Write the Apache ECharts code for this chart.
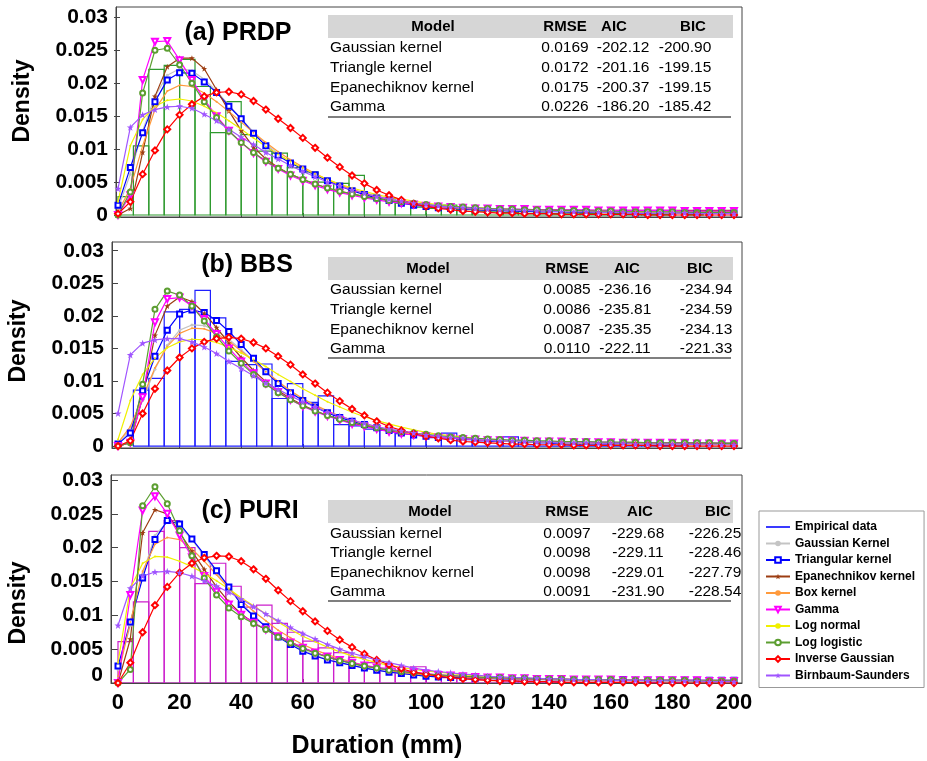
<!DOCTYPE html>
<html>
<head>
<meta charset="utf-8">
<script src="https://cdn.jsdelivr.net/npm/echarts@6/dist/echarts.min.js"></script>
<style>
html,body{margin:0;padding:0;background:#fff}
#chart{width:927px;height:761px}
</style>
</head>
<body>
<div id="chart"></div>
<script>
// ---------- data ----------
const xGrid = [0,4,8,12,16,20,24,28,32,36,40,44,48,52,56,60,64,68,72,76,80,84,88,92,96,
  100,104,108,112,116,120,124,128,132,136,140,144,148,152,156,160,164,168,172,176,180,184,188,192,196,200];
const binStarts = [0,5,10,15,20,25,30,35,40,45,50,55,60,65,70,75,80,85,90,95,
  100,105,110,115,120,125,130,135,140,145,150,155,160,165,170,175,180,185,190,195];
const binWidth = 5;
const xTicks = [0,20,40,60,80,100,120,140,160,180,200];
const yTicks = [0,0.005,0.01,0.015,0.02,0.025,0.03];

// empirical densities (PRDP, BBS, PURI)
const aHist = [0.0028,0.0105,0.0221,0.0227,0.0236,0.0195,0.0125,0.0172,0.0122,0.0097,0.0094,0.0072,0.0065,0.0050,0.0048,0.0060,0.0030,0.0025,0.0018,0.0012,0.0010,0.0015,0.0008,0.0006,0.0005,0.0004,0.0005,0.0003,0.0002,0.0003,0.0002,0.0001,0.0002,0.0001,0.0001,0.0001,0,0.0001,0,0];
const bHist = [0,0.0086,0.0104,0.0206,0.0210,0.0239,0.0197,0.0130,0.0125,0.0126,0.0073,0.0096,0.0067,0.0077,0.0033,0.0031,0.0026,0.0024,0.0019,0.0017,0.0013,0.0020,0.0010,0.0008,0.0007,0.0014,0.0006,0.0005,0.0004,0.0003,0.0003,0.0002,0.0002,0.0001,0.0001,0.0001,0.0001,0,0,0];
const cHist = [0.0061,0.0120,0.0224,0.0240,0.0200,0.0147,0.0177,0.0143,0.0112,0.0115,0.0088,0.0075,0.0062,0.0052,0.0045,0.0038,0.0030,0.0022,0.0016,0.0024,0.0010,0.0008,0.0007,0.0005,0.0004,0.0003,0.0003,0.0002,0.0002,0.0001,0.0001,0.0003,0.0001,0.0001,0.0001,0,0.0001,0,0,0];

// fitted densities, PRDP
const aGauss = [0.0010,0.0062,0.0128,0.0180,0.0212,0.0222,0.0219,0.0206,0.0188,0.0167,0.0146,0.0126,0.0108,0.0093,0.0080,0.0069,0.0060,0.0052,0.0045,0.0039,0.0034,0.0029,0.0025,0.0021,0.0018,
  0.0016,0.0014,0.0012,0.0011,0.0010,0.0009,0.0008,0.0008,0.0007,0.0007,0.0006,0.0006,0.0006,0.0005,0.0005,0.0005,0.0005,0.0005,0.0004,0.0004,0.0004,0.0004,0.0004,0.0004,0.0004,0.0004];
const aTri = [0.0015,0.0072,0.0125,0.0172,0.0205,0.0216,0.0215,0.0202,0.0186,0.0165,0.0146,0.0124,0.0105,0.0090,0.0079,0.0070,0.0061,0.0052,0.0044,0.0037,0.0031,0.0026,0.0022,0.0018,0.0015,
  0.0013,0.0011,0.0010,0.0009,0.0008,0.0007,0.0007,0.0006,0.0006,0.0005,0.0005,0.0005,0.0004,0.0004,0.0004,0.0004,0.0004,0.0003,0.0003,0.0003,0.0003,0.0003,0.0003,0.0003,0.0003,0.0003];
const aEpa = [0,0.0010,0.0095,0.0180,0.0225,0.0238,0.0238,0.0222,0.0190,0.0158,0.0128,0.0103,0.0085,0.0072,0.0062,0.0054,0.0047,0.0041,0.0036,0.0032,0.0028,0.0025,0.0022,0.0019,0.0017,
  0.0015,0.0013,0.0012,0.0011,0.0010,0.0009,0.0009,0.0008,0.0008,0.0008,0.0008,0.0008,0.0007,0.0007,0.0007,0.0007,0.0007,0.0007,0.0007,0.0007,0.0007,0.0007,0.0007,0.0007,0.0007,0.0007];
const aBox = [0.0005,0.0040,0.0105,0.0160,0.0188,0.0197,0.0195,0.0185,0.0172,0.0157,0.0141,0.0125,0.0110,0.0096,0.0084,0.0073,0.0063,0.0054,0.0046,0.0039,0.0033,0.0028,0.0024,0.0020,0.0017,
  0.0015,0.0013,0.0011,0.0010,0.0009,0.0008,0.0008,0.0007,0.0007,0.0007,0.0006,0.0006,0.0006,0.0006,0.0006,0.0005,0.0005,0.0005,0.0005,0.0005,0.0005,0.0005,0.0005,0.0005,0.0005,0.0005];
const aGam = [0,0.0030,0.0205,0.0263,0.0264,0.0235,0.0205,0.0175,0.0150,0.0128,0.0110,0.0094,0.0081,0.0070,0.0060,0.0052,0.0045,0.0039,0.0034,0.0030,0.0026,0.0023,0.0020,0.0018,0.0016,
  0.0014,0.0013,0.0012,0.0011,0.0010,0.0010,0.0009,0.0009,0.0009,0.0008,0.0008,0.0008,0.0008,0.0008,0.0007,0.0007,0.0007,0.0007,0.0007,0.0007,0.0007,0.0006,0.0006,0.0006,0.0006,0.0006];
const aLN = [0.0020,0.0105,0.0145,0.0165,0.0174,0.0176,0.0173,0.0165,0.0155,0.0143,0.0130,0.0117,0.0104,0.0092,0.0081,0.0071,0.0062,0.0054,0.0047,0.0041,0.0036,0.0031,0.0027,0.0024,0.0021,
  0.0018,0.0016,0.0014,0.0012,0.0011,0.0010,0.0009,0.0008,0.0007,0.0007,0.0006,0.0006,0.0005,0.0005,0.0005,0.0004,0.0004,0.0004,0.0004,0.0003,0.0003,0.0003,0.0003,0.0003,0.0003,0.0003];
const aLL = [0,0.0035,0.0185,0.0250,0.0253,0.0228,0.0200,0.0172,0.0148,0.0127,0.0110,0.0095,0.0082,0.0071,0.0062,0.0054,0.0047,0.0041,0.0036,0.0032,0.0028,0.0025,0.0022,0.0020,0.0018,
  0.0016,0.0014,0.0013,0.0012,0.0011,0.0010,0.0009,0.0009,0.0008,0.0008,0.0007,0.0007,0.0007,0.0006,0.0006,0.0006,0.0005,0.0005,0.0005,0.0005,0.0005,0.0004,0.0004,0.0004,0.0004,0.0004];
const aIG = [0.0002,0.0020,0.0062,0.0098,0.0130,0.0152,0.0168,0.0180,0.0186,0.0187,0.0183,0.0173,0.0160,0.0146,0.0132,0.0117,0.0102,0.0087,0.0073,0.0060,0.0048,0.0038,0.0030,0.0023,0.0017,
  0.0013,0.0010,0.0008,0.0006,0.0005,0.0004,0.0003,0.0003,0.0002,0.0002,0.0002,0.0001,0.0001,0.0001,0.0001,0.0001,0.0001,0.0001,0,0,0,0,0,0,0,0];
const aBS = [0.0040,0.0133,0.0152,0.0160,0.0164,0.0165,0.0162,0.0153,0.0143,0.0130,0.0118,0.0107,0.0095,0.0085,0.0075,0.0066,0.0058,0.0050,0.0044,0.0038,0.0033,0.0028,0.0024,0.0021,0.0018,
  0.0016,0.0014,0.0012,0.0011,0.0010,0.0009,0.0008,0.0007,0.0007,0.0006,0.0006,0.0005,0.0005,0.0005,0.0004,0.0004,0.0004,0.0003,0.0003,0.0003,0.0003,0.0003,0.0002,0.0002,0.0002,0.0002];

// fitted densities, BBS
const bGauss = [0.0005,0.0025,0.0070,0.0118,0.0155,0.0178,0.0186,0.0185,0.0177,0.0164,0.0148,0.0131,0.0114,0.0098,0.0084,0.0072,0.0062,0.0053,0.0045,0.0039,0.0033,0.0028,0.0024,0.0021,0.0018,
  0.0016,0.0014,0.0012,0.0011,0.0010,0.0009,0.0008,0.0008,0.0007,0.0007,0.0006,0.0006,0.0006,0.0005,0.0005,0.0005,0.0005,0.0004,0.0004,0.0004,0.0004,0.0004,0.0004,0.0003,0.0003,0.0003];
const bTri = [0.0003,0.0020,0.0085,0.0138,0.0178,0.0203,0.0209,0.0205,0.0193,0.0176,0.0156,0.0135,0.0114,0.0096,0.0082,0.0070,0.0060,0.0051,0.0044,0.0038,0.0033,0.0028,0.0024,0.0020,0.0017,
  0.0015,0.0013,0.0012,0.0011,0.0010,0.0009,0.0009,0.0008,0.0008,0.0007,0.0007,0.0006,0.0006,0.0006,0.0005,0.0005,0.0005,0.0005,0.0004,0.0004,0.0004,0.0004,0.0004,0.0004,0.0004,0.0004];
const bEpa = [0,0.0005,0.0075,0.0170,0.0215,0.0229,0.0222,0.0204,0.0182,0.0158,0.0136,0.0116,0.0099,0.0085,0.0073,0.0063,0.0054,0.0047,0.0041,0.0035,0.0031,0.0027,0.0023,0.0020,0.0018,
  0.0016,0.0014,0.0012,0.0011,0.0010,0.0009,0.0008,0.0008,0.0007,0.0007,0.0006,0.0006,0.0006,0.0005,0.0005,0.0005,0.0005,0.0004,0.0004,0.0004,0.0004,0.0004,0.0004,0.0004,0.0004,0.0004];
const bBox = [0.0005,0.0030,0.0075,0.0120,0.0153,0.0173,0.0181,0.0180,0.0173,0.0161,0.0146,0.0130,0.0114,0.0099,0.0085,0.0073,0.0063,0.0054,0.0046,0.0040,0.0034,0.0029,0.0025,0.0021,0.0018,
  0.0016,0.0014,0.0012,0.0011,0.0010,0.0009,0.0008,0.0008,0.0007,0.0007,0.0006,0.0006,0.0006,0.0005,0.0005,0.0005,0.0005,0.0004,0.0004,0.0004,0.0004,0.0004,0.0004,0.0003,0.0003,0.0003];
const bGam = [0,0.0005,0.0075,0.0190,0.0226,0.0228,0.0215,0.0195,0.0172,0.0150,0.0130,0.0112,0.0096,0.0083,0.0071,0.0061,0.0053,0.0046,0.0040,0.0034,0.0030,0.0026,0.0022,0.0019,0.0017,
  0.0015,0.0013,0.0012,0.0011,0.0010,0.0009,0.0009,0.0008,0.0008,0.0007,0.0007,0.0007,0.0006,0.0006,0.0006,0.0006,0.0005,0.0005,0.0005,0.0005,0.0005,0.0005,0.0004,0.0004,0.0004,0.0004];
const bLN = [0.0010,0.0070,0.0110,0.0135,0.0151,0.0160,0.0164,0.0163,0.0159,0.0152,0.0143,0.0133,0.0122,0.0110,0.0099,0.0088,0.0078,0.0068,0.0060,0.0052,0.0045,0.0039,0.0034,0.0029,0.0025,
  0.0021,0.0018,0.0016,0.0014,0.0012,0.0010,0.0009,0.0008,0.0007,0.0006,0.0006,0.0005,0.0005,0.0004,0.0004,0.0004,0.0003,0.0003,0.0003,0.0003,0.0002,0.0002,0.0002,0.0002,0.0002,0.0002];
const bLL = [0,0.0005,0.0095,0.0210,0.0238,0.0232,0.0215,0.0192,0.0168,0.0146,0.0127,0.0110,0.0095,0.0082,0.0071,0.0062,0.0054,0.0047,0.0041,0.0036,0.0032,0.0028,0.0025,0.0022,0.0020,
  0.0018,0.0016,0.0014,0.0013,0.0012,0.0011,0.0010,0.0009,0.0009,0.0008,0.0008,0.0007,0.0007,0.0007,0.0006,0.0006,0.0006,0.0006,0.0005,0.0005,0.0005,0.0005,0.0005,0.0005,0.0004,0.0004];
const bIG = [0,0.0008,0.0050,0.0088,0.0116,0.0136,0.0150,0.0160,0.0165,0.0167,0.0165,0.0159,0.0150,0.0138,0.0125,0.0110,0.0096,0.0082,0.0069,0.0057,0.0047,0.0038,0.0030,0.0024,0.0019,
  0.0015,0.0012,0.0009,0.0007,0.0006,0.0005,0.0004,0.0003,0.0003,0.0002,0.0002,0.0002,0.0001,0.0001,0.0001,0.0001,0.0001,0.0001,0.0001,0,0,0,0,0,0,0];
const bBS = [0.0050,0.0140,0.0158,0.0163,0.0165,0.0165,0.0160,0.0152,0.0142,0.0130,0.0119,0.0108,0.0097,0.0087,0.0077,0.0068,0.0060,0.0052,0.0046,0.0040,0.0035,0.0030,0.0026,0.0023,0.0020,
  0.0017,0.0015,0.0013,0.0012,0.0010,0.0009,0.0008,0.0008,0.0007,0.0006,0.0006,0.0005,0.0005,0.0005,0.0004,0.0004,0.0004,0.0003,0.0003,0.0003,0.0003,0.0003,0.0002,0.0002,0.0002,0.0002];

// fitted densities, PURI
const cGauss = [0.0020,0.0085,0.0160,0.0218,0.0238,0.0232,0.0212,0.0188,0.0163,0.0140,0.0118,0.0100,0.0084,0.0070,0.0059,0.0049,0.0041,0.0035,0.0030,0.0026,0.0022,0.0019,0.0016,0.0014,0.0012,
  0.0010,0.0009,0.0008,0.0007,0.0007,0.0006,0.0006,0.0005,0.0005,0.0005,0.0004,0.0004,0.0004,0.0004,0.0004,0.0004,0.0004,0.0003,0.0003,0.0003,0.0003,0.0003,0.0003,0.0003,0.0003,0.0003];
const cTri = [0.0025,0.0090,0.0155,0.0212,0.0240,0.0235,0.0213,0.0190,0.0166,0.0142,0.0116,0.0099,0.0083,0.0068,0.0057,0.0047,0.0040,0.0034,0.0030,0.0026,0.0022,0.0019,0.0016,0.0014,0.0012,
  0.0010,0.0009,0.0008,0.0008,0.0007,0.0007,0.0006,0.0006,0.0006,0.0006,0.0005,0.0005,0.0005,0.0005,0.0005,0.0005,0.0005,0.0004,0.0004,0.0004,0.0004,0.0004,0.0004,0.0004,0.0004,0.0004];
const cEpa = [0,0.0065,0.0222,0.0256,0.0250,0.0222,0.0195,0.0168,0.0142,0.0120,0.0102,0.0089,0.0079,0.0070,0.0061,0.0052,0.0045,0.0039,0.0034,0.0029,0.0025,0.0022,0.0019,0.0016,0.0014,
  0.0012,0.0011,0.0010,0.0009,0.0008,0.0008,0.0007,0.0007,0.0006,0.0006,0.0006,0.0005,0.0005,0.0005,0.0005,0.0005,0.0004,0.0004,0.0004,0.0004,0.0004,0.0004,0.0004,0.0004,0.0004,0.0004];
const cBox = [0.0010,0.0090,0.0165,0.0205,0.0215,0.0212,0.0198,0.0180,0.0160,0.0140,0.0122,0.0106,0.0092,0.0078,0.0067,0.0057,0.0049,0.0042,0.0036,0.0031,0.0026,0.0022,0.0019,0.0016,0.0014,
  0.0012,0.0011,0.0010,0.0009,0.0008,0.0007,0.0007,0.0006,0.0006,0.0006,0.0005,0.0005,0.0005,0.0005,0.0004,0.0004,0.0004,0.0004,0.0004,0.0004,0.0004,0.0003,0.0003,0.0003,0.0003,0.0003];
const cGam = [0,0.0130,0.0255,0.0276,0.0250,0.0218,0.0186,0.0158,0.0135,0.0116,0.0101,0.0089,0.0079,0.0069,0.0060,0.0052,0.0045,0.0039,0.0034,0.0030,0.0026,0.0023,0.0020,0.0018,0.0016,
  0.0014,0.0012,0.0011,0.0010,0.0009,0.0008,0.0008,0.0007,0.0007,0.0006,0.0006,0.0006,0.0005,0.0005,0.0005,0.0005,0.0004,0.0004,0.0004,0.0004,0.0004,0.0004,0.0004,0.0003,0.0003,0.0003];
const cLN = [0.0030,0.0140,0.0177,0.0187,0.0186,0.0180,0.0172,0.0162,0.0151,0.0139,0.0126,0.0114,0.0102,0.0090,0.0079,0.0069,0.0061,0.0053,0.0046,0.0040,0.0035,0.0030,0.0026,0.0023,0.0020,
  0.0018,0.0016,0.0014,0.0012,0.0011,0.0010,0.0009,0.0008,0.0007,0.0007,0.0006,0.0006,0.0005,0.0005,0.0005,0.0004,0.0004,0.0004,0.0003,0.0003,0.0003,0.0003,0.0003,0.0003,0.0002,0.0002];
const cLL = [0,0.0020,0.0262,0.0290,0.0265,0.0225,0.0188,0.0155,0.0130,0.0111,0.0098,0.0088,0.0079,0.0068,0.0059,0.0051,0.0044,0.0038,0.0033,0.0029,0.0025,0.0022,0.0019,0.0017,0.0015,
  0.0013,0.0012,0.0011,0.0010,0.0009,0.0008,0.0008,0.0007,0.0007,0.0006,0.0006,0.0006,0.0005,0.0005,0.0005,0.0005,0.0004,0.0004,0.0004,0.0004,0.0004,0.0004,0.0003,0.0003,0.0003,0.0003];
const cIG = [0,0.0030,0.0075,0.0115,0.0142,0.0163,0.0177,0.0185,0.0188,0.0187,0.0180,0.0168,0.0154,0.0137,0.0121,0.0106,0.0091,0.0077,0.0064,0.0053,0.0043,0.0034,0.0027,0.0021,0.0016,
  0.0013,0.0010,0.0008,0.0006,0.0005,0.0004,0.0003,0.0003,0.0002,0.0002,0.0002,0.0001,0.0001,0.0001,0.0001,0.0001,0.0001,0.0001,0,0,0,0,0,0,0,0];
const cBS = [0.0085,0.0140,0.0158,0.0164,0.0165,0.0163,0.0158,0.0151,0.0143,0.0134,0.0124,0.0113,0.0102,0.0092,0.0082,0.0073,0.0065,0.0057,0.0050,0.0044,0.0039,0.0034,0.0030,0.0026,0.0022,
  0.0019,0.0017,0.0015,0.0013,0.0012,0.0010,0.0009,0.0008,0.0008,0.0007,0.0006,0.0006,0.0005,0.0005,0.0005,0.0004,0.0004,0.0004,0.0003,0.0003,0.0003,0.0003,0.0003,0.0002,0.0002,0.0002];

// goodness-of-fit tables
const tableHeader = ['Model','RMSE','AIC','BIC'];
const modelNames = ['Gaussian kernel','Triangle kernel','Epanechiknov kernel','Gamma'];
const rmseA = ['0.0169','0.0172','0.0175','0.0226'];
const aicA  = ['-202.12','-201.16','-200.37','-186.20'];
const bicA  = ['-200.90','-199.15','-199.15','-185.42'];
const rmseB = ['0.0085','0.0086','0.0087','0.0110'];
const aicB  = ['-236.16','-235.81','-235.35','-222.11'];
const bicB  = ['-234.94','-234.59','-234.13','-221.33'];
const rmseC = ['0.0097','0.0098','0.0098','0.0091'];
const aicC  = ['-229.68','-229.11','-229.01','-231.90'];
const bicC  = ['-226.25','-228.46','-227.79','-228.54'];

const legendNames = ['Empirical data','Gaussian Kernel','Triangular kernel','Epanechnikov kernel','Box kernel',
  'Gamma','Log normal','Log logistic','Inverse Gaussian','Birnbaum-Saunders'];

// ---------- styling ----------
const FONT = '"Liberation Sans", Arial, Helvetica, sans-serif';
const STAR = 'path://M10,0 L12.4,7 L20,7 L14,11.5 L16.2,19 L10,14.5 L3.8,19 L6,11.5 L0,7 L7.6,7 Z';
const curveStyles = [
  {name:'Gaussian Kernel',     color:'#c4c4c4', symbol:'circle',        size:3},
  {name:'Triangular kernel',   color:'#0000ff', symbol:'emptyRect',     size:5},
  {name:'Epanechnikov kernel', color:'#9c3d12', symbol:STAR,            size:6},
  {name:'Box kernel',          color:'#ff9a3c', symbol:'circle',        size:2},
  {name:'Gamma',               color:'#ff00ff', symbol:'emptyTriangle', size:6, rotate:180},
  {name:'Log normal',          color:'#f0f000', symbol:'circle',        size:2},
  {name:'Log logistic',        color:'#5c9e31', symbol:'emptyCircle',   size:5},
  {name:'Inverse Gaussian',    color:'#ff0000', symbol:'emptyDiamond',  size:6},
  {name:'Birnbaum-Saunders',   color:'#a055ff', symbol:STAR,            size:7}
];

const panels = [
  { title:'(a) PRDP', hist:aHist, histColor:'#2e9a2e',
    curves:[aGauss,aTri,aEpa,aBox,aGam,aLN,aLL,aIG,aBS],
    grid:{left:116, top:7, width:626, height:210},
    xMin:-0.65, xMax:202.6, yMin:-0.0003, yMax:0.03156, showX:false,
    titleXY:[238,33], densityXY:[23,101],
    table:{rmse:rmseA, aic:aicA, bic:bicA, bandY:15, headY:27, rowY:[48,68,88,107], lineY:117,
           headX:[433,565,614,693], valX:[565,623,685]} },
  { title:'(b) BBS', hist:bHist, histColor:'#1f1fff',
    curves:[bGauss,bTri,bEpa,bBox,bGam,bLN,bLL,bIG,bBS],
    grid:{left:112, top:242, width:630, height:206},
    xMin:-1.95, xMax:202.6, yMin:-0.0003, yMax:0.03134, showX:false,
    titleXY:[247,265], densityXY:[19,341],
    table:{rmse:rmseB, aic:aicB, bic:bicB, bandY:257, headY:269, rowY:[290,310,330,349], lineY:358,
           headX:[428,567,627,700], valX:[567,625,706]} },
  { title:'(c) PURI', hist:cHist, histColor:'#cc1fcc',
    curves:[cGauss,cTri,cEpa,cBox,cGam,cLN,cLL,cIG,cBS],
    grid:{left:111, top:475, width:631, height:208},
    xMin:-2.27, xMax:202.6, yMin:0, yMax:0.03074, showX:true,
    titleXY:[250,511], densityXY:[19,603],
    table:{rmse:rmseC, aic:aicC, bic:bicC, bandY:500, headY:512, rowY:[534,553,573,592], lineY:601,
           headX:[430,567,640,718], valX:[567,638,715]} }
];

const AXIS_COLOR = '#444';
const tickLabel = {fontFamily:FONT, fontWeight:'bold', fontSize:21, color:'#000'};

const grids = [], xAxes = [], yAxes = [], series = [], graphics = [];

panels.forEach((p, i) => {
  grids.push(Object.assign({show:true, borderColor:AXIS_COLOR, borderWidth:1, backgroundColor:'#fff'}, p.grid));
  xAxes.push({
    gridIndex:i, type:'value', min:p.xMin, max:p.xMax,
    axisLine:{show:true, onZero:false, lineStyle:{color:AXIS_COLOR}},
    axisTick:{show:true, inside:true, length:4, customValues:xTicks, lineStyle:{color:AXIS_COLOR}},
    axisLabel:{show:p.showX, margin:9, fontSize:22, customValues:xTicks, fontFamily:FONT, fontWeight:'bold', color:'#000'},
    splitLine:{show:false}
  });
  const yLabel = Object.assign({show:true, margin:8, customValues:yTicks}, tickLabel);
  if (i === 2) {
    yLabel.formatter = v => (v === 0 ? '{z|0}' : String(v));
    yLabel.rich = {z:{fontFamily:FONT, fontWeight:'bold', fontSize:21, color:'#000', padding:[0,0,16,0]}};
  }
  yAxes.push({
    gridIndex:i, type:'value', position:'left', min:p.yMin, max:p.yMax,
    axisLine:{show:true, onZero:false, lineStyle:{color:AXIS_COLOR}},
    axisTick:{show:true, inside:true, length:4, customValues:yTicks, lineStyle:{color:AXIS_COLOR}},
    axisLabel:yLabel, splitLine:{show:false}
  });
  yAxes.push({
    gridIndex:i, type:'value', position:'right', min:p.yMin, max:p.yMax,
    axisLine:{show:false},
    axisTick:{show:true, inside:true, length:4, customValues:yTicks, lineStyle:{color:AXIS_COLOR}},
    axisLabel:{show:false, customValues:yTicks}, splitLine:{show:false}
  });

  // empirical histogram, drawn as outlined bins
  const histColor = p.histColor;
  series.push({
    type:'custom', name:'Empirical ' + p.title, xAxisIndex:i, yAxisIndex:2*i, clip:true, z:1,
    data: binStarts.map((s, k) => [s, p.hist[k]]),
    encode:{x:0, y:1},
    renderItem:(params, api) => {
      const x0 = api.value(0), v = api.value(1);
      if (!v) return {type:'group', children:[]};
      const a = api.coord([x0, 0]), b = api.coord([x0 + binWidth, v]);
      return {type:'rect', shape:{x:a[0], y:b[1], width:b[0]-a[0], height:a[1]-b[1]},
              style:{fill:'none', stroke:histColor, lineWidth:1.2}};
    }
  });

  // fitted density curves
  p.curves.forEach((vals, k) => {
    const st = curveStyles[k];
    series.push({
      type:'line', name:st.name, xAxisIndex:i, yAxisIndex:2*i, z:2,
      data: xGrid.map((x, j) => [x, vals[j]]),
      symbol:st.symbol, symbolSize:st.size, symbolRotate:st.rotate || 0, showAllSymbol:true,
      lineStyle:{color:st.color, width:1.2}, itemStyle:{color:st.color, borderWidth:1},
      emphasis:{disabled:true}
    });
  });

  // panel title and axis name
  graphics.push({type:'text', x:p.titleXY[0], y:p.titleXY[1], z:100,
    style:{text:p.title, font:'bold 25px ' + FONT, fill:'#000', align:'center', verticalAlign:'middle'}});
  graphics.push({type:'text', x:p.densityXY[0], y:p.densityXY[1], rotation:Math.PI/2, z:100,
    style:{text:'Density', font:'bold 23px ' + FONT, fill:'#000', align:'center', verticalAlign:'middle'}});

  // statistics table
  const t = p.table;
  graphics.push({type:'rect', shape:{x:328, y:t.bandY, width:405, height:23}, z:100, style:{fill:'#d6d6d6'}});
  tableHeader.forEach((h, c) => graphics.push({type:'text', x:t.headX[c], y:t.headY, z:101,
    style:{text:h, font:'bold 15px ' + FONT, fill:'#000', align:'center', verticalAlign:'middle'}}));
  modelNames.forEach((m, r) => {
    graphics.push({type:'text', x:330, y:t.rowY[r], z:101,
      style:{text:m, font:'15.5px ' + FONT, fill:'#000', align:'left', verticalAlign:'middle'}});
    [t.rmse[r], t.aic[r], t.bic[r]].forEach((val, c) => graphics.push({type:'text', x:t.valX[c], y:t.rowY[r], z:101,
      style:{text:val, font:'15.5px ' + FONT, fill:'#000', align:'center', verticalAlign:'middle'}}));
  });
  graphics.push({type:'line', shape:{x1:328, y1:t.lineY, x2:731, y2:t.lineY}, z:101, style:{stroke:'#000', lineWidth:1.2}});
});

// legend entry for the empirical histograms
series.push({type:'line', name:'Empirical data', xAxisIndex:2, yAxisIndex:4, data:[], symbol:'none',
  lineStyle:{color:'#3a3aff', width:1.5}, itemStyle:{color:'#3a3aff'}});

graphics.push({type:'text', x:377, y:746, z:100,
  style:{text:'Duration (mm)', font:'bold 25px ' + FONT, fill:'#000', align:'center', verticalAlign:'middle'}});

const legendData = legendNames.map(n => (n === 'Empirical data' ? {name:n, itemStyle:{opacity:0}} : {name:n}));

const chart = echarts.init(document.getElementById('chart'), null, {renderer:'canvas'});
chart.setOption({
  animation:false,
  backgroundColor:'#fff',
  grid:grids, xAxis:xAxes, yAxis:yAxes, series:series, graphic:graphics,
  legend:{
    data:legendData, orient:'vertical', left:759, top:511,
    padding:[10,9,6,6], itemWidth:24, itemHeight:7, itemGap:4.5,
    backgroundColor:'#fff', borderColor:'#999', borderWidth:1, borderRadius:0,
    textStyle:{fontFamily:FONT, fontWeight:'bold', fontSize:12, color:'#000'},
    selectedMode:false
  }
});
</script>
</body>
</html>
